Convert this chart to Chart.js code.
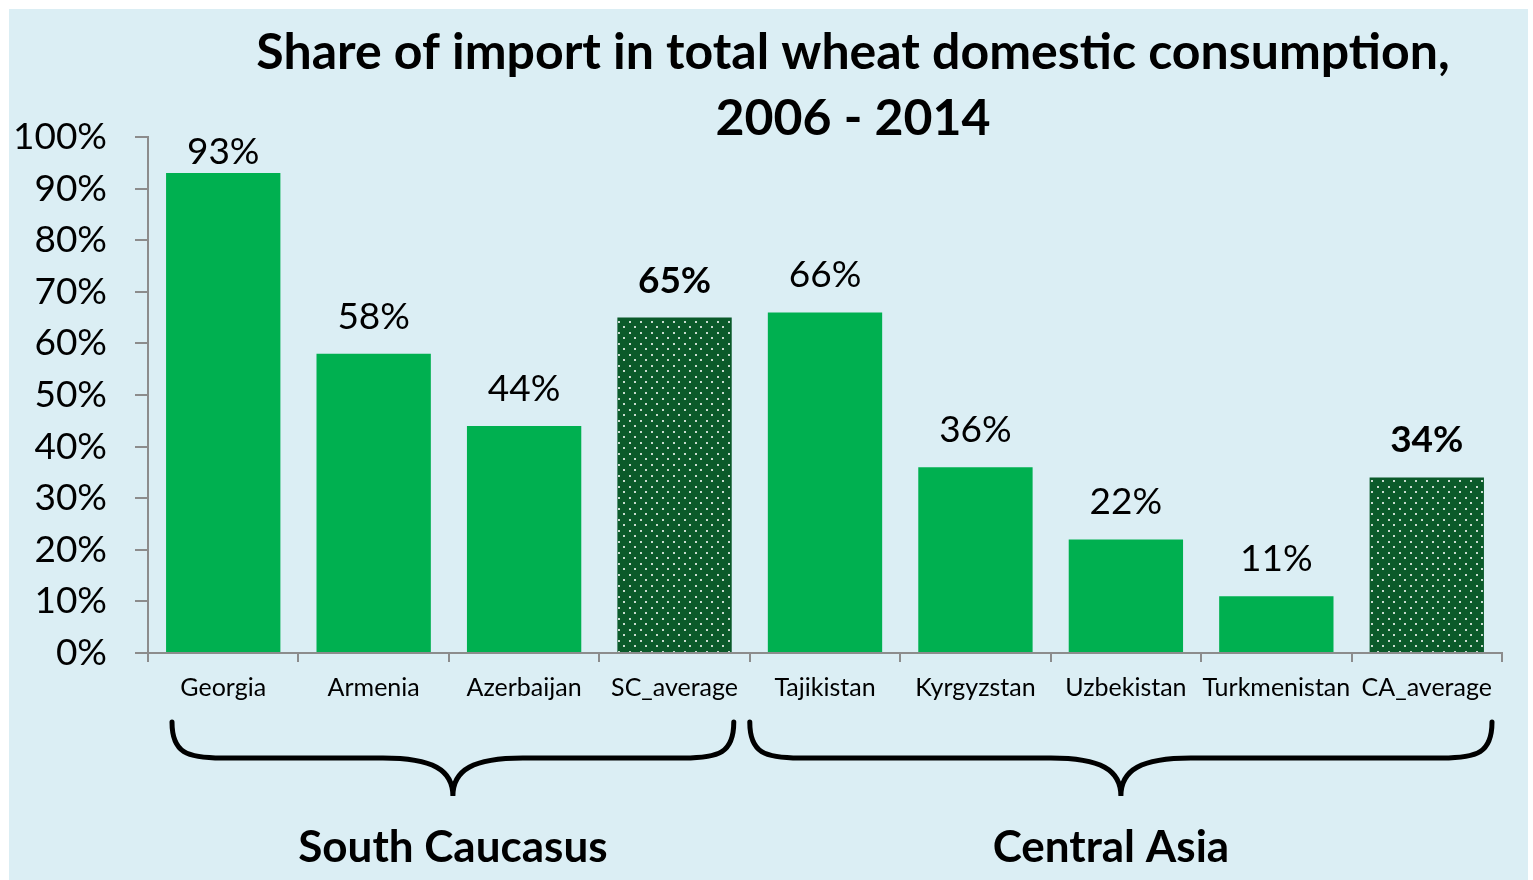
<!DOCTYPE html>
<html>
<head>
<meta charset="utf-8">
<script src="https://cdn.jsdelivr.net/npm/chart.js@4/dist/chart.umd.min.js"></script>
<style>
  html, body { margin: 0; padding: 0; background: #fff; }
  canvas { display: block; }
</style>
</head>
<body>
<canvas id="wheatChart" width="1533" height="880"></canvas>
<script>
// data
const countries = ['Georgia', 'Armenia', 'Azerbaijan', 'SC_average', 'Tajikistan', 'Kyrgyzstan', 'Uzbekistan', 'Turkmenistan', 'CA_average'];
const importShare = [93, 58, 44, 65, 66, 36, 22, 11, 34];
const averageBars = ['SC_average', 'CA_average'];
const yTicks = [0, 10, 20, 30, 40, 50, 60, 70, 80, 90, 100];
const groups = [
    { name: 'South Caucasus', from: 'Georgia', to: 'SC_average' },
    { name: 'Central Asia', from: 'Tajikistan', to: 'CA_average' }
];
const titleLines = ['Share of import in total wheat domestic consumption,', '2006 - 2014'];

const FONT = 'Lato, "Open Sans", sans-serif';
const GREEN = '#00B050';
const DARK_GREEN = '#0B5A2A';

// dotted fill used for the two average bars
const makeDots = () => {
    const tile = document.createElement('canvas');
    tile.width = 11;
    tile.height = 11;
    const t = tile.getContext('2d');
    t.fillStyle = DARK_GREEN;
    t.fillRect(0, 0, 11, 11);
    t.fillStyle = '#c9dccf';
    t.fillRect(2, 2, 2, 2);
    t.fillRect(7, 7, 2, 2);
    return t.createPattern(tile, 'repeat');
};
const dots = makeDots();

const isAverage = (name) => averageBars.includes(name);

const backgroundPlugin = {
    id: 'panel',
    beforeDraw(chart) {
        const ctx = chart.ctx;
        ctx.save();
        ctx.fillStyle = '#ffffff';
        ctx.fillRect(0, 0, chart.width, chart.height);
        ctx.fillStyle = '#DBEEF4';
        ctx.fillRect(9, 9, 1519, chart.height - 9);
        ctx.restore();
    }
};

const titlePlugin = {
    id: 'twoLineTitle',
    afterDraw(chart) {
        const ctx = chart.ctx;
        ctx.save();
        ctx.fillStyle = '#000';
        ctx.font = 'bold 50px ' + FONT;
        ctx.textAlign = 'center';
        ctx.textBaseline = 'middle';
        titleLines.forEach((line, i) => ctx.fillText(line, 853, 53 + i * 66));
        ctx.restore();
    }
};

const valueLabels = {
    id: 'valueLabels',
    afterDatasetsDraw(chart) {
        const ctx = chart.ctx;
        const meta = chart.getDatasetMeta(0);
        ctx.save();
        ctx.fillStyle = '#000';
        ctx.textAlign = 'center';
        ctx.textBaseline = 'middle';
        meta.data.forEach((bar, i) => {
            ctx.font = (isAverage(countries[i]) ? 'bold ' : '') + '37px ' + FONT;
            const y = Math.max(bar.y - 37, chart.chartArea.top + 15);
            ctx.fillText(importShare[i] + '%', bar.x, y);
        });
        ctx.restore();
    }
};

// curly braces under the category labels
const bracePlugin = {
    id: 'groupBraces',
    afterDraw(chart) {
        const ctx = chart.ctx;
        const x = chart.scales.x;
        const half = x.width / countries.length / 2;
        const top = 722, mid = 758, tip = 796;
        ctx.save();
        ctx.strokeStyle = '#000';
        ctx.lineWidth = 5;
        ctx.lineCap = 'round';
        groups.forEach((g, gi) => {
            const x1 = x.getPixelForValue(countries.indexOf(g.from)) - half + (gi === 0 ? 24 : 0);
            const x2 = x.getPixelForValue(countries.indexOf(g.to)) + half - (gi === 0 ? 16 : 10);
            const cx = (x1 + x2) / 2;
            ctx.beginPath();
            ctx.moveTo(x1, top);
            ctx.bezierCurveTo(x1, mid - 5, x1 + 15, mid, x1 + 50, mid);
            ctx.lineTo(cx - 70, mid);
            ctx.bezierCurveTo(cx - 20, mid, cx, mid + 12, cx, tip);
            ctx.bezierCurveTo(cx, mid + 12, cx + 20, mid, cx + 70, mid);
            ctx.lineTo(x2 - 50, mid);
            ctx.bezierCurveTo(x2 - 15, mid, x2, mid - 5, x2, top);
            ctx.stroke();

            // the group names sit a little left of the brace tip on the right side
            ctx.fillStyle = '#000';
            ctx.font = 'bold 44px ' + FONT;
            ctx.textAlign = 'center';
            ctx.textBaseline = 'middle';
            ctx.fillText(g.name, cx - (gi === 0 ? 0 : 10), 848);
        });
        ctx.restore();
    }
};

new Chart(document.getElementById('wheatChart'), {
    type: 'bar',
    data: {
        labels: countries,
        datasets: [{
            data: importShare,
            backgroundColor: countries.map(c => isAverage(c) ? dots : GREEN),
            borderWidth: 0,
            barPercentage: 0.76,
            categoryPercentage: 1
        }]
    },
    options: {
        responsive: false,
        animation: false,
        layout: { padding: { left: 10, top: 137, right: 31, bottom: 0 } },
        plugins: {
            legend: { display: false },
            title: { display: false },
            tooltip: { enabled: false }
        },
        scales: {
            x: {
                afterFit: (s) => { s.height = 227; },
                grid: { drawOnChartArea: false, color: '#8c8c8c', lineWidth: 2, tickLength: 9, offset: true },
                border: { color: '#8c8c8c', width: 2 },
                ticks: { color: '#000', font: { family: FONT, size: 25 }, padding: 11, maxRotation: 0, autoSkip: false }
            },
            y: {
                min: 0,
                max: 100,
                afterFit: (s) => { s.width = 138; },
                afterBuildTicks: (s) => { s.ticks = yTicks.map(v => ({ value: v })); },
                grid: { drawOnChartArea: false, color: '#8c8c8c', lineWidth: 2, tickLength: 13 },
                border: { color: '#8c8c8c', width: 2 },
                ticks: {
                    color: '#000',
                    font: { family: FONT, size: 37 },
                    padding: 28,
                    callback: (v) => v + '%'
                }
            }
        }
    },
    plugins: [backgroundPlugin, valueLabels, bracePlugin, titlePlugin]
});
</script>
</body>
</html>
